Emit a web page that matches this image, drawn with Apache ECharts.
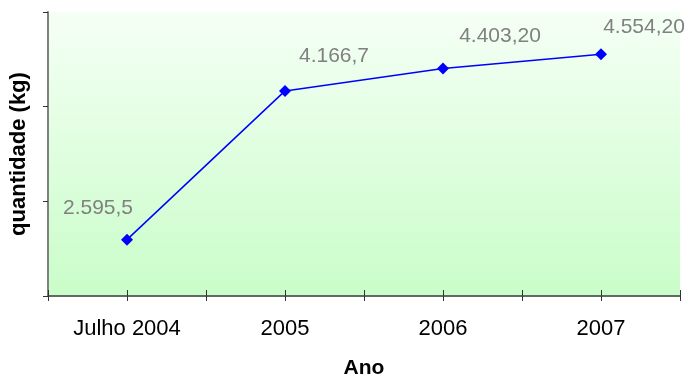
<!DOCTYPE html>
<html>
<head>
<meta charset="utf-8">
<script src="https://cdn.jsdelivr.net/npm/echarts@6/dist/echarts.min.js"></script>
<style>html,body{margin:0;padding:0;background:#fff}#c{width:696px;height:376px}</style>
</head>
<body>
<div id="c"></div>
<script>
const categories = ['Julho 2004', '2005', '2006', '2007'];
const values = [2595.5, 4166.7, 4403.2, 4554.2];
const valueLabels = ['2.595,5', '4.166,7', '4.403,20', '4.554,20'];
const yTicks = [2000, 3000, 4000, 5000];

const labelOffsets = [[-29, -31], [49, -35], [57, -32], [43, -27]];

const chart = echarts.init(document.getElementById('c'));
const font = '"Liberation Sans", Arial, sans-serif';
const tickAxisBase = {
  type: 'category', data: categories, position: 'bottom', offset: -6,
  axisLine: { show: false }, axisLabel: { show: false },
  splitLine: { show: false }
};
chart.setOption({
  animation: false,
  grid: {
    left: 48, right: 16, top: 12, bottom: 80, show: true, borderWidth: 0,
    outerBoundsMode: 'none', containLabel: false,
    backgroundColor: new echarts.graphic.LinearGradient(0, 0, 0, 1, [
      { offset: 0, color: '#f5fff5' }, { offset: 1, color: '#c9fdc9' }
    ])
  },
  xAxis: [
    {
      type: 'category', data: categories, boundaryGap: true,
      axisLine: { lineStyle: { color: '#5f6b5f', width: 2 } },
      axisTick: { show: false },
      axisLabel: { color: '#000', fontFamily: font, fontSize: 22, margin: 22 },
      name: 'Ano', nameLocation: 'middle', nameGap: 62,
      nameTextStyle: { color: '#000', fontFamily: font, fontSize: 21, fontWeight: 'bold' }
    },
    Object.assign({}, tickAxisBase, { axisTick: { show: true, alignWithLabel: false, length: 11, lineStyle: { color: '#333', width: 1 } } }),
    Object.assign({}, tickAxisBase, { axisTick: { show: true, alignWithLabel: true, length: 11, lineStyle: { color: '#333', width: 1 } } })
  ],
  yAxis: {
    type: 'value', min: yTicks[0], max: yTicks[yTicks.length - 1], interval: yTicks[1] - yTicks[0],
    axisLine: { show: true, lineStyle: { color: '#808080', width: 2 } },
    axisTick: { show: true, length: 5, lineStyle: { color: '#333' } },
    axisLabel: { show: false },
    splitLine: { show: false },
    name: 'quantidade (kg)', nameLocation: 'middle', nameGap: 18,
    nameTextStyle: { color: '#000', fontFamily: font, fontSize: 22, fontWeight: 'bold' }
  },
  series: [{
    type: 'line', xAxisIndex: 0,
    data: values.map((v, i) => ({
      value: v,
      label: { show: true, position: 'inside', offset: labelOffsets[i], formatter: valueLabels[i] }
    })),
    symbol: 'diamond', symbolSize: 12,
    itemStyle: { color: '#0000ff' },
    lineStyle: { color: '#0000ff', width: 1.5 },
    label: { color: '#808080', fontFamily: font, fontSize: 21 }
  }]
});
</script>
</body>
</html>
